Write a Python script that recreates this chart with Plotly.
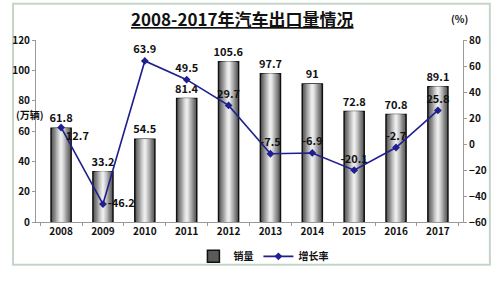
import plotly.graph_objects as go

years = ["2008", "2009", "2010", "2011", "2012", "2013", "2014", "2015", "2016", "2017"]
sales = [61.8, 33.2, 54.5, 81.4, 105.6, 97.7, 91, 72.8, 70.8, 89.1]
growth = [12.7, -46.2, 63.9, 49.5, 29.7, -7.5, -6.9, -20.1, -2.7, 25.8]
growth_pos = ["bottom right", "middle right", "top center", "top center", "top center",
              "top center", "top center", "top center", "top center", "top center"]

FONT = "Noto Sans CJK SC"
W, H = 499, 283
ML, MR, MT, MB = 25, 29, 40, 47
PW, PH = W - ML - MR, H - MT - MB

fig = go.Figure()

fig.add_trace(go.Bar(
    x=years, y=sales, name="销量", width=0.48,
    marker=dict(color="#5a5a5a", line=dict(color="#111111", width=1.5)),
    text=[str(v) for v in sales], textposition="outside", constraintext="none",
    textfont=dict(family=FONT, size=11, color="#111111", weight="bold"),
    cliponaxis=False, showlegend=True, yaxis="y",
))
layers = [(0.42, "#6c6c6c"), (0.36, "#808080"), (0.30, "#969696"), (0.24, "#adadad"),
          (0.18, "#c4c4c4"), (0.12, "#d9d9d9"), (0.06, "#ececec")]
for w, c in layers:
    fig.add_trace(go.Bar(
        x=years, y=sales, width=w, marker=dict(color=c, line=dict(width=0)),
        showlegend=False, hoverinfo="skip", yaxis="y",
    ))

fig.add_trace(go.Scatter(
    x=years, y=growth, name="增长率", yaxis="y2", mode="lines+markers+text",
    line=dict(color="#1f1f8f", width=1.6),
    marker=dict(symbol="diamond", size=6, color="#1f1f8f"),
    text=[str(v) for v in growth], textposition=growth_pos,
    textfont=dict(family=FONT, size=11, color="#111111", weight="bold"),
    cliponaxis=False,
))

tf = dict(family=FONT, size=10, color="#111111", weight="bold")
fig.update_layout(
    width=W, height=H,
    margin=dict(l=ML, r=MR, t=MT, b=MB),
    paper_bgcolor="white", plot_bgcolor="white",
    barmode="overlay",
    font=dict(family=FONT, size=10, color="#111111"),
    xaxis=dict(showline=True, linecolor="#999999", linewidth=1, ticks="outside",
               tickcolor="#999999", ticklen=3, tickson="boundaries",
               tickfont=tf, showgrid=False),
    yaxis=dict(range=[0, 120], dtick=20, showline=True, linecolor="#999999",
               ticks="outside", tickcolor="#999999", ticklen=3, showgrid=False,
               zeroline=False, tickfont=tf),
    yaxis2=dict(range=[-60, 80], dtick=20, overlaying="y", side="right",
                showline=True, linecolor="#999999", ticks="outside", tickcolor="#999999",
                ticklen=3, showgrid=False, zeroline=False, tickfont=tf),
    legend=dict(orientation="h", x=(262 - ML) / PW, xanchor="center",
                y=(PH - (273 - MT)) / PH, yanchor="middle",
                font=dict(family=FONT, size=10, color="#111111", weight="bold"),
                bgcolor="rgba(0,0,0,0)", traceorder="normal", itemwidth=30),
    annotations=[
        dict(text="<b><u>2008-2017年汽车出口量情况</u></b>", xref="paper", yref="paper",
             x=(240 - ML) / PW, y=(PH - (17 - MT)) / PH, xanchor="center", yanchor="middle",
             showarrow=False, font=dict(family=FONT, size=17, color="#111111")),
        dict(text="(%)", xref="paper", yref="paper",
             x=(466 - ML) / PW, y=(PH - (17 - MT)) / PH, xanchor="center", yanchor="middle",
             showarrow=False, font=dict(family=FONT, size=10, color="#111111", weight="bold")),
        dict(text="(万辆)", xref="paper", yref="paper",
             x=(35 - ML) / PW, y=(PH - (120 - MT)) / PH, xanchor="right", yanchor="middle",
             showarrow=False, font=dict(family=FONT, size=10, color="#111111", weight="bold")),
    ],
    shapes=[dict(type="rect", xref="paper", yref="paper",
                 x0=(-ML + 1) / PW, x1=(PW + MR - 1) / PW,
                 y0=(-MB + 1) / PH, y1=(PH + MT - 1) / PH,
                 line=dict(color="#c5d6c8", width=2), layer="below")],
)

fig.write_html("out.html")
